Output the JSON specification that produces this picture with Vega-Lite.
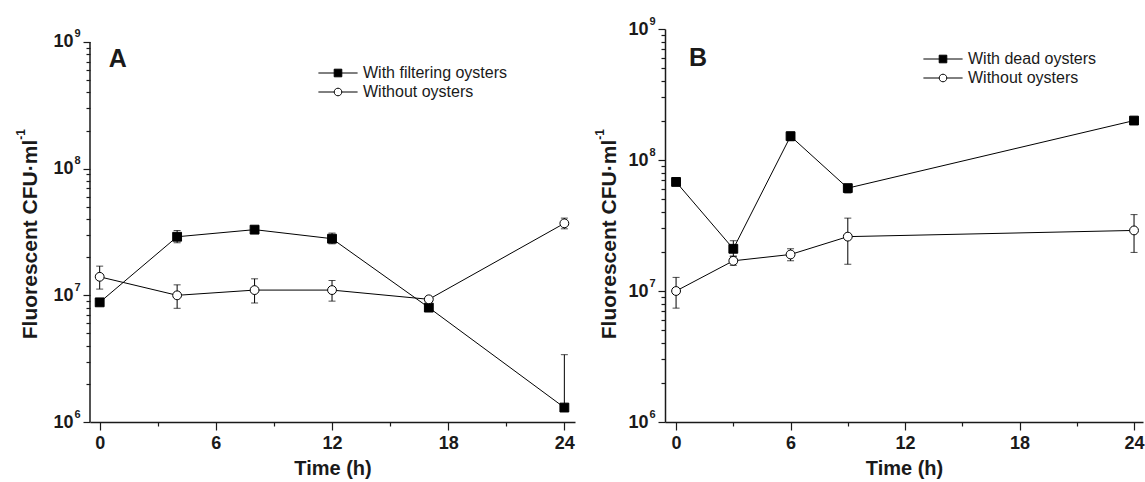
{
  "$schema": "https://vega.github.io/schema/vega-lite/v6.json",
  "background": "white",
  "autosize": {"type": "none"},
  "padding": {"left": 90, "top": 29, "right": 1055, "bottom": 453},
  "bounds": "flush",
  "spacing": 90,
  "config": {
    "view": {"stroke": null},
    "font": "Liberation Sans",
    "axis": {
      "grid": false,
      "domainColor": "#1a1a1a",
      "domainWidth": 1.5,
      "tickColor": "#1a1a1a",
      "tickWidth": 1.2,
      "labelFont": "Liberation Sans",
      "labelFontWeight": "bold",
      "labelFontSize": 18,
      "labelColor": "#1a1a1a",
      "labelFlush": false,
      "labelOverlap": false,
      "titleFont": "Liberation Sans",
      "titleFontWeight": "bold",
      "titleFontSize": 20,
      "titleColor": "#1a1a1a"
    },
    "legend": {
      "orient": "none", "title": null, "padding": 0, "symbolSize": 64,
      "labelFontSize": 16, "labelFont": "Liberation Sans", "labelFontWeight": "normal",
      "labelColor": "#1a1a1a", "labelOffset": 17, "rowPadding": 3,
      "symbolStrokeColor": "black", "symbolStrokeWidth": 1, "symbolOpacity": 1
    }
  },
  "datasets": {
    "A": [
      {"t": 0, "series": "With filtering oysters", "v": 8800000, "lo": 8500000, "hi": 9100000},
      {"t": 4, "series": "With filtering oysters", "v": 29000000, "lo": 26000000, "hi": 32500000},
      {"t": 8, "series": "With filtering oysters", "v": 33000000, "lo": 31500000, "hi": 34500000},
      {"t": 12, "series": "With filtering oysters", "v": 28000000, "lo": 25500000, "hi": 31000000},
      {"t": 17, "series": "With filtering oysters", "v": 8000000, "lo": 7600000, "hi": 8400000},
      {"t": 24, "series": "With filtering oysters", "v": 1300000, "lo": 1300000, "hi": 3400000},
      {"t": 0, "series": "Without oysters", "v": 14000000, "lo": 11200000, "hi": 17000000},
      {"t": 4, "series": "Without oysters", "v": 10000000, "lo": 7900000, "hi": 12100000},
      {"t": 8, "series": "Without oysters", "v": 11000000, "lo": 8700000, "hi": 13500000},
      {"t": 12, "series": "Without oysters", "v": 11000000, "lo": 9000000, "hi": 13100000},
      {"t": 17, "series": "Without oysters", "v": 9300000, "lo": 9000000, "hi": 9600000},
      {"t": 24, "series": "Without oysters", "v": 37000000, "lo": 33500000, "hi": 40700000}
    ],
    "B": [
      {"t": 0, "series": "With dead oysters", "v": 68000000, "lo": 66000000, "hi": 70000000},
      {"t": 3, "series": "With dead oysters", "v": 21000000, "lo": 18500000, "hi": 24200000},
      {"t": 6, "series": "With dead oysters", "v": 152000000, "lo": 140000000, "hi": 163000000},
      {"t": 9, "series": "With dead oysters", "v": 61000000, "lo": 56000000, "hi": 65000000},
      {"t": 24, "series": "With dead oysters", "v": 200000000, "lo": 188000000, "hi": 212000000},
      {"t": 0, "series": "Without oysters", "v": 10000000, "lo": 7400000, "hi": 12700000},
      {"t": 3, "series": "Without oysters", "v": 17000000, "lo": 15700000, "hi": 18300000},
      {"t": 6, "series": "Without oysters", "v": 19000000, "lo": 17000000, "hi": 21000000},
      {"t": 9, "series": "Without oysters", "v": 26000000, "lo": 16000000, "hi": 36000000},
      {"t": 24, "series": "Without oysters", "v": 29000000, "lo": 19700000, "hi": 38300000}
    ]
  },
  "hconcat": [
    {
      "width": 485,
      "height": 393,
      "data": {"name": "A"},
      "resolve": {"axis": {"y": "independent"}},
      "layer": [
        {
          "mark": {"type": "line", "color": "black", "strokeWidth": 1},
          "encoding": {
            "x": {
              "field": "t", "type": "quantitative", "title": "Time (h)",
              "scale": {"domain": [-0.5, 24.55], "nice": false, "zero": false},
              "axis": {
                "values": [0, 3, 6, 9, 12, 15, 18, 21, 24],
                "labelExpr": "datum.value % 6 == 0 ? datum.value : ''",
                "tickSize": {"condition": {"test": "datum.value % 6 == 0", "value": 8}, "value": 4},
                "labelPadding": 4,
                "titlePadding": 6
              }
            },
            "y": {
              "field": "v", "type": "quantitative", "title": "Fluorescent CFU·ml",
              "scale": {"type": "log", "domain": [1000000, 1266000000], "nice": false},
              "axis": {
                "orient": "left",
                "domain": false,
                "values": [1000000, 2000000, 3000000, 4000000, 5000000, 6000000, 7000000, 8000000, 9000000, 10000000, 20000000, 30000000, 40000000, 50000000, 60000000, 70000000, 80000000, 90000000, 100000000, 200000000, 300000000, 400000000, 500000000, 600000000, 700000000, 800000000, 900000000, 1000000000],
                "labelExpr": "datum.value == 1000000 || datum.value == 10000000 || datum.value == 100000000 || datum.value == 1000000000 ? '10' : ''",
                "tickSize": {"condition": {"test": "datum.value == 1000000 || datum.value == 10000000 || datum.value == 100000000 || datum.value == 1000000000", "value": 7}, "value": 4},
                "labelPadding": 10,
                "titleFontSize": 21,
                "titleAngle": -90,
                "titleBaseline": "alphabetic",
                "titleAlign": "center",
                "titleX": -54,
                "titleY": 210
              }
            },
            "detail": {"field": "series"}
          }
        },
        {
          "mark": {"type": "errorbar", "ticks": {"size": 7, "color": "black", "thickness": 1}, "rule": {"color": "black", "strokeWidth": 1}},
          "encoding": {
            "x": {"field": "t", "type": "quantitative", "title": "Time (h)"},
            "y": {"field": "lo", "type": "quantitative", "axis": null},
            "y2": {"field": "hi"}
          }
        },
        {
          "mark": {"type": "point", "filled": true, "size": 78, "stroke": "black", "strokeWidth": 1, "opacity": 1},
          "encoding": {
            "x": {"field": "t", "type": "quantitative", "title": "Time (h)"},
            "y": {
              "field": "v", "type": "quantitative", "title": "-1",
              "axis": {
                "orient": "left",
                "domain": false,
                "ticks": false,
                "values": [1000000, 10000000, 100000000, 1000000000],
                "labelExpr": "datum.value == 1000000 ? '6' : datum.value == 10000000 ? '7' : datum.value == 100000000 ? '8' : '9'",
                "labelFontSize": 11,
                "labelOffset": -8,
                "labelPadding": 10,
                "titleFontSize": 12,
                "titleAngle": -90,
                "titleBaseline": "alphabetic",
                "titleAlign": "center",
                "titleX": -66,
                "titleY": 105
              }
            },
            "shape": {"condition": {"test": "datum.series == 'Without oysters'", "value": "circle"}, "value": "square"},
            "fill": {"condition": {"test": "datum.series == 'Without oysters'", "value": "white"}, "value": "black"}
          }
        },
        {
          "transform": [{"filter": "false"}],
          "mark": {"type": "point", "filled": true, "size": 64, "stroke": "black", "strokeWidth": 1},
          "encoding": {
            "x": {"field": "t", "type": "quantitative"},
            "y": {"field": "v", "type": "quantitative", "axis": null},
            "shape": {
              "field": "series", "type": "nominal",
              "scale": {"domain": ["With filtering oysters", "Without oysters"], "range": ["M-4.9,0H4.9M-0.95,-0.95H0.95V0.95H-0.95Z", "M-4.9,0H-0.95M0.95,0H4.9M-0.95,0A0.95,0.95 0 1,0 0.95,0A0.95,0.95 0 1,0 -0.95,0Z"]},
              "legend": {"legendX": 240, "legendY": 36, "encode": {"symbols": {"update": {"stroke": {"value": "black"}, "strokeWidth": {"value": 1}, "opacity": {"value": 1}}}}}
            },
            "fill": {
              "field": "series", "type": "nominal",
              "scale": {"domain": ["With filtering oysters", "Without oysters"], "range": ["black", "white"]},
              "legend": {"legendX": 240, "legendY": 36, "encode": {"symbols": {"update": {"stroke": {"value": "black"}, "strokeWidth": {"value": 1}, "opacity": {"value": 1}}}}}
            }
          }
        },
        {
          "data": {"values": [{}]},
          "mark": {"type": "text", "text": "A", "fontSize": 25, "fontWeight": "bold", "font": "Liberation Sans", "color": "#1a1a1a", "baseline": "middle", "align": "center"},
          "encoding": {
            "x": {"datum": 0.93, "type": "quantitative"},
            "y": {"datum": 734000000, "type": "quantitative", "axis": null}
          }
        },
        {
          "data": {"values": [{}]},
          "mark": {"type": "rule", "color": "#1a1a1a", "strokeWidth": 1.5},
          "encoding": {
            "x": {"datum": -0.5, "type": "quantitative"},
            "y": {"datum": 1000000, "type": "quantitative", "axis": null},
            "y2": {"datum": 1000000000}
          }
        }
      ]
    },
    {
      "width": 478,
      "height": 393,
      "data": {"name": "B"},
      "resolve": {"axis": {"y": "independent"}},
      "layer": [
        {
          "mark": {"type": "line", "color": "black", "strokeWidth": 1},
          "encoding": {
            "x": {
              "field": "t", "type": "quantitative", "title": "Time (h)",
              "scale": {"domain": [-0.58, 24.47], "nice": false, "zero": false},
              "axis": {
                "values": [0, 3, 6, 9, 12, 15, 18, 21, 24],
                "labelExpr": "datum.value % 6 == 0 ? datum.value : ''",
                "tickSize": {"condition": {"test": "datum.value % 6 == 0", "value": 8}, "value": 4},
                "labelPadding": 4,
                "titlePadding": 6
              }
            },
            "y": {
              "field": "v", "type": "quantitative", "title": "Fluorescent CFU·ml",
              "scale": {"type": "log", "domain": [1000000, 1000000000], "nice": false},
              "axis": {
                "orient": "left",
                "values": [1000000, 2000000, 3000000, 4000000, 5000000, 6000000, 7000000, 8000000, 9000000, 10000000, 20000000, 30000000, 40000000, 50000000, 60000000, 70000000, 80000000, 90000000, 100000000, 200000000, 300000000, 400000000, 500000000, 600000000, 700000000, 800000000, 900000000, 1000000000],
                "labelExpr": "datum.value == 1000000 || datum.value == 10000000 || datum.value == 100000000 || datum.value == 1000000000 ? '10' : ''",
                "tickSize": {"condition": {"test": "datum.value == 1000000 || datum.value == 10000000 || datum.value == 100000000 || datum.value == 1000000000", "value": 7}, "value": 4},
                "labelPadding": 10,
                "titleFontSize": 21,
                "titleAngle": -90,
                "titleBaseline": "alphabetic",
                "titleAlign": "center",
                "titleX": -50,
                "titleY": 210
              }
            },
            "detail": {"field": "series"}
          }
        },
        {
          "mark": {"type": "errorbar", "ticks": {"size": 7, "color": "black", "thickness": 1}, "rule": {"color": "black", "strokeWidth": 1}},
          "encoding": {
            "x": {"field": "t", "type": "quantitative", "title": "Time (h)"},
            "y": {"field": "lo", "type": "quantitative", "axis": null},
            "y2": {"field": "hi"}
          }
        },
        {
          "mark": {"type": "point", "filled": true, "size": 78, "stroke": "black", "strokeWidth": 1, "opacity": 1},
          "encoding": {
            "x": {"field": "t", "type": "quantitative", "title": "Time (h)"},
            "y": {
              "field": "v", "type": "quantitative", "title": "-1",
              "axis": {
                "orient": "left",
                "domain": false,
                "ticks": false,
                "values": [1000000, 10000000, 100000000, 1000000000],
                "labelExpr": "datum.value == 1000000 ? '6' : datum.value == 10000000 ? '7' : datum.value == 100000000 ? '8' : '9'",
                "labelFontSize": 11,
                "labelOffset": -8,
                "labelPadding": 10,
                "titleFontSize": 12,
                "titleAngle": -90,
                "titleBaseline": "alphabetic",
                "titleAlign": "center",
                "titleX": -62,
                "titleY": 105
              }
            },
            "shape": {"condition": {"test": "datum.series == 'Without oysters'", "value": "circle"}, "value": "square"},
            "fill": {"condition": {"test": "datum.series == 'Without oysters'", "value": "white"}, "value": "black"}
          }
        },
        {
          "transform": [{"filter": "false"}],
          "mark": {"type": "point", "filled": true, "size": 64, "stroke": "black", "strokeWidth": 1},
          "encoding": {
            "x": {"field": "t", "type": "quantitative"},
            "y": {"field": "v", "type": "quantitative", "axis": null},
            "shape": {
              "field": "series", "type": "nominal",
              "scale": {"domain": ["With dead oysters", "Without oysters"], "range": ["M-4.9,0H4.9M-0.95,-0.95H0.95V0.95H-0.95Z", "M-4.9,0H-0.95M0.95,0H4.9M-0.95,0A0.95,0.95 0 1,0 0.95,0A0.95,0.95 0 1,0 -0.95,0Z"]},
              "legend": {"legendX": 270, "legendY": 22, "encode": {"symbols": {"update": {"stroke": {"value": "black"}, "strokeWidth": {"value": 1}, "opacity": {"value": 1}}}}}
            },
            "fill": {
              "field": "series", "type": "nominal",
              "scale": {"domain": ["With dead oysters", "Without oysters"], "range": ["black", "white"]},
              "legend": {"legendX": 270, "legendY": 22, "encode": {"symbols": {"update": {"stroke": {"value": "black"}, "strokeWidth": {"value": 1}, "opacity": {"value": 1}}}}}
            }
          }
        },
        {
          "data": {"values": [{}]},
          "mark": {"type": "text", "text": "B", "fontSize": 25, "fontWeight": "bold", "font": "Liberation Sans", "color": "#1a1a1a", "baseline": "middle", "align": "center"},
          "encoding": {
            "x": {"datum": 1.15, "type": "quantitative"},
            "y": {"datum": 601000000, "type": "quantitative", "axis": null}
          }
        }
      ]
    }
  ],
  "resolve": {
    "scale": {"x": "independent", "y": "independent", "shape": "independent", "fill": "independent"},
    "legend": {"shape": "independent", "fill": "independent"}
  }
}
